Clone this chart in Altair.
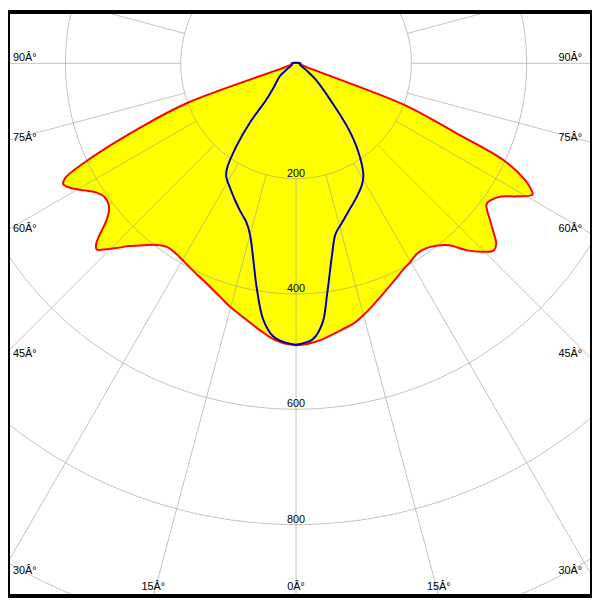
import math
import altair as alt
import pandas as pd

# ---- values (cd/klm) by angle from nadir (degrees) ----
red_left_angles = [0, 2.5, 5, 7.5, 10, 12.5, 15, 17.5, 20, 22.5, 25, 27.5, 30, 32.5, 35, 37.5, 40, 42.5,
                   44, 45.5, 47, 48, 49, 50, 51.5, 53, 55, 57, 59, 61, 62.5, 63.5, 65, 67.5, 70, 72.5, 80, 90]
red_left_values = [489, 486, 479, 468, 457, 447, 438, 428, 419, 411, 405, 399, 394, 390, 389, 397, 412, 430,
                   445, 460, 473, 466, 450, 432, 415, 407, 405, 412, 428, 446, 455, 448, 400, 295, 200, 12, 8, 8]

red_right_angles = [0, 2.5, 5, 7.5, 10, 12.5, 15, 17.5, 20, 22.5, 25, 27.5, 30, 32.5, 35, 37.5, 40, 42.5,
                    44.5, 46.5, 48, 49.5, 51, 53.5, 55, 57, 59, 61, 62, 63, 65, 66.5, 69, 72.5, 80, 90]
red_right_values = [489, 487, 482, 475, 468, 462, 452, 441, 430, 420, 411, 403, 397, 391, 392, 399, 412, 440,
                    458, 472, 467, 450, 433, 411, 413, 424, 448, 469, 460, 446, 396, 300, 201, 12, 8, 8]

blue_left_angles = [0, 2.5, 4.8, 7.3, 10, 12.2, 15.1, 17.5, 20.7, 24, 27.8, 31.6, 33.3, 35.8, 37.9, 39.3,
                    42.6, 51.5, 56, 73, 90]
blue_left_values = [488, 484, 475, 448, 394, 350, 307, 288, 274, 260, 245, 231, 218, 176, 130, 81,
                    58, 36, 21, 7, 7]

blue_right_angles = [0, 3.4, 5.8, 7.7, 10.7, 13, 16, 19.6, 24, 28.4, 31.1, 35.1, 38.6, 42.5, 50.1, 56, 73, 90]
blue_right_values = [488, 480, 453, 403, 337, 304, 288, 272, 256, 240, 226, 188, 146, 93, 45, 22, 7, 7]

circle_values = [200, 400, 600, 800, 1000]
circle_label_values = [200, 400, 600, 800]
spoke_angles = list(range(0, 360, 15))
angle_label_values = [0, 15, 30, 45, 60, 75, 90]

# ---- geometry of the picture ----
CX, CY = 300.0, 60.0      # pole position in the picture (px)
K = 0.5845                # px per cd
OFF, W, H = 8, 592, 592

def polar(angle, r, side):
    a = math.radians(angle)
    return side * r * math.sin(a), -r * math.cos(a)

def px_to_data(px, py):
    return (px - CX) / K, (CY - py) / K

xscale = alt.Scale(domain=[(OFF - CX) / K, (OFF + W - CX) / K], nice=False, zero=False)
yscale = alt.Scale(domain=[(CY - (OFF + H)) / K, (CY - OFF) / K], nice=False, zero=False)

def curve_frame(la, lv, ra, rv):
    rows = []
    i = 0
    for a, v in zip(la, lv):
        x, y = polar(a, v, -1)
        rows.append({"X": x, "Y": y, "i": i}); i += 1
    for a, v in reversed(list(zip(ra, rv))):
        x, y = polar(a, v, 1)
        rows.append({"X": x, "Y": y, "i": i}); i += 1
    rows.append(dict(rows[0], i=i))
    return pd.DataFrame(rows)

red_df = curve_frame(red_left_angles, red_left_values, red_right_angles, red_right_values)
blue_df = curve_frame(blue_left_angles, blue_left_values, blue_right_angles, blue_right_values)

circ_rows = []
for r in circle_values:
    for j, a in enumerate(range(0, 361, 2)):
        x, y = polar(a, r, 1)
        circ_rows.append({"X": x, "Y": y, "r": r, "i": j})
circ_df = pd.DataFrame(circ_rows)

spoke_rows = []
for a in spoke_angles:
    x1, y1 = polar(a, 200, 1)
    x2, y2 = polar(a, 1200, 1)
    spoke_rows.append({"X": x1, "Y": y1, "X2": x2, "Y2": y2})
spoke_df = pd.DataFrame(spoke_rows)

clabel_rows = []
for v in circle_label_values:
    x, y = px_to_data(CX, CY + v * K - 2)
    clabel_rows.append({"X": x, "Y": y, "t": str(v)})
clabel_df = pd.DataFrame(clabel_rows)

lab_rows = {"left": [], "right": [], "center": []}
for a in angle_label_values:
    for s in ([0] if a == 0 else [-1, 1]):
        sa, ca = math.sin(math.radians(a)), math.cos(math.radians(a))
        t_side = 300 / sa if sa > 1e-9 else 1e9
        t_bot = 540 / ca if ca > 1e-9 else 1e9
        txt = f"{a}Â°"
        if t_side <= t_bot:
            py = CY + t_side * ca - 2
            px = 13 if s < 0 else 590
            x, y = px_to_data(px, py)
            lab_rows["left" if s < 0 else "right"].append({"X": x, "Y": y, "t": txt})
        else:
            px = CX + s * t_bot * sa
            x, y = px_to_data(px, 594)
            lab_rows["center"].append({"X": x, "Y": y, "t": txt})

X = alt.X("X:Q", scale=xscale, axis=None)
Y = alt.Y("Y:Q", scale=yscale, axis=None)

red_fill = alt.Chart(red_df).mark_line(fill="#ffff00", strokeOpacity=0, clip=True,
                                       interpolate="catmull-rom").encode(x=X, y=Y, order="i:Q")
circles = alt.Chart(circ_df).mark_line(stroke="#999999", strokeWidth=1, opacity=0.6, clip=True).encode(
    x=X, y=Y, detail="r:N", order="i:Q")
spokes = alt.Chart(spoke_df).mark_rule(stroke="#999999", strokeWidth=1, opacity=0.6, clip=True).encode(
    x=X, y=Y, x2="X2:Q", y2="Y2:Q")
red_line = alt.Chart(red_df).mark_line(stroke="#ff0000", strokeWidth=2, clip=True,
                                       interpolate="catmull-rom").encode(x=X, y=Y, order="i:Q")
blue_line = alt.Chart(blue_df).mark_line(stroke="#0000aa", strokeWidth=2, clip=True,
                                         interpolate="catmull-rom").encode(x=X, y=Y, order="i:Q")

txt_kw = dict(font="Liberation Sans", fontSize=11, color="black", baseline="alphabetic")
clabels = alt.Chart(clabel_df).mark_text(align="center", **txt_kw).encode(x=X, y=Y, text="t:N")
lab_left = alt.Chart(pd.DataFrame(lab_rows["left"])).mark_text(align="left", **txt_kw).encode(x=X, y=Y, text="t:N")
lab_right = alt.Chart(pd.DataFrame(lab_rows["right"])).mark_text(align="right", **txt_kw).encode(x=X, y=Y, text="t:N")
lab_center = alt.Chart(pd.DataFrame(lab_rows["center"])).mark_text(align="center", **txt_kw).encode(x=X, y=Y, text="t:N")

frame = alt.Chart(pd.DataFrame({"a": [0]})).mark_rect(filled=False, stroke="black", strokeWidth=4).encode(
    x=alt.value(0), x2=alt.value(W), y=alt.value(0), y2=alt.value(H))

chart = alt.layer(red_fill, circles, spokes, red_line, blue_line, clabels, lab_left, lab_right, lab_center, frame).properties(
    width=W, height=H, padding=0, autosize=alt.AutoSizeParams(type="none"), background="white"
).configure_view(stroke=None)

chart.save("out.html", embed_options={"renderer": "svg", "actions": False})
